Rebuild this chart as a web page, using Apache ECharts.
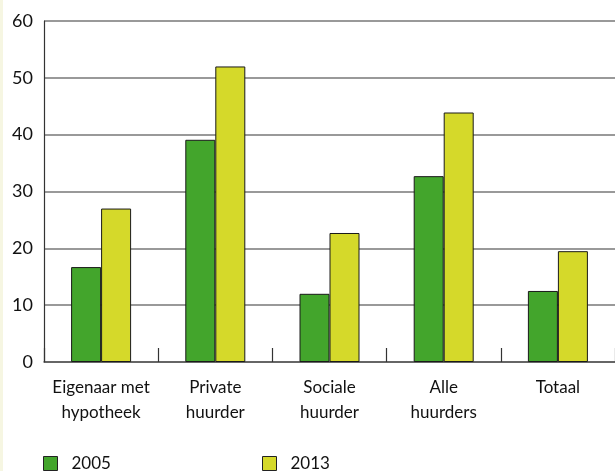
<!DOCTYPE html>
<html><head><meta charset="utf-8">
<script src="https://cdn.jsdelivr.net/npm/echarts@6/dist/echarts.min.js"></script>
<style>
html,body{margin:0;padding:0;background:#fff;}
#wrap{position:relative;width:615px;height:471px;}
#strip{position:absolute;left:0;top:0;width:3px;height:471px;background:#f6f6e2;}
#chart{position:absolute;left:0;top:0;width:615px;height:471px;}
</style></head>
<body><div id="wrap"><div id="strip"></div><div id="chart"></div></div>
<script>
const categories = ['Eigenaar met\nhypotheek', 'Private\nhuurder', 'Sociale\nhuurder', 'Alle\nhuurders', 'Totaal'];
const seriesNames = ['2005', '2013'];
const values2005 = [16.7, 39.1, 12.0, 32.7, 12.5];
const values2013 = [27.0, 52.0, 22.7, 43.9, 19.5];
const yTicks = [0, 10, 20, 30, 40, 50, 60];

const FONT = 'Lato';
const chart = echarts.init(document.getElementById('chart'));
const legendText = { fontFamily: FONT, fontSize: 17, color: '#111', padding: [0, 0, 0, 9] };
const legendItem = { borderColor: '#222', borderWidth: 1 };
chart.setOption({
  animation: false,
  backgroundColor: 'transparent',
  textStyle: { fontFamily: FONT },
  grid: { left: 44, right: -6, top: 21, bottom: 109, containLabel: false },
  legend: [
    { data: [seriesNames[0]], left: 43, top: 455, padding: 0, icon: 'rect', itemWidth: 14, itemHeight: 14, itemGap: 0,
      itemStyle: legendItem, textStyle: legendText },
    { data: [seriesNames[1]], left: 262, top: 455, padding: 0, icon: 'rect', itemWidth: 14, itemHeight: 14, itemGap: 0,
      itemStyle: legendItem, textStyle: legendText }
  ],
  xAxis: {
    type: 'category',
    data: categories,
    boundaryGap: true,
    axisLine: { lineStyle: { color: '#555', width: 1.5 } },
    axisTick: { show: true, inside: true, length: 14, lineStyle: { color: '#333', width: 1.2 } },
    axisLabel: { fontFamily: FONT, fontSize: 17, color: '#111', lineHeight: 25, margin: 13, interval: 0 }
  },
  yAxis: {
    type: 'value',
    min: 0, max: 60, interval: 10,
    axisLine: { show: true, lineStyle: { color: '#333', width: 1.2 } },
    axisTick: { show: false },
    axisLabel: { fontFamily: FONT, fontSize: 18, color: '#111', margin: 11,
      formatter: v => yTicks.includes(v) ? String(v) : '' },
    splitLine: { show: true, lineStyle: { color: '#777', width: 1.5 } }
  },
  series: [
    { name: seriesNames[0], type: 'bar', data: values2005, barWidth: 30, barGap: '0%',
      itemStyle: { color: '#43a52c', borderColor: '#1a1a1a', borderWidth: 1 } },
    { name: seriesNames[1], type: 'bar', data: values2013, barWidth: 30, barGap: '0%',
      itemStyle: { color: '#d5d92a', borderColor: '#1a1a1a', borderWidth: 1 } }
  ]
});
</script></body></html>
